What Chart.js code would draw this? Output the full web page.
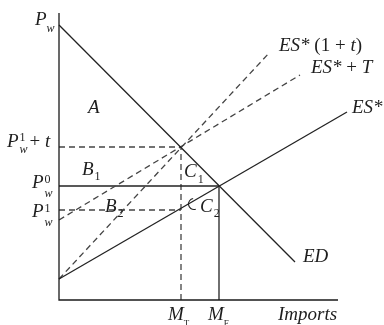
<!DOCTYPE html>
<html><head><meta charset="utf-8">
<script src="https://cdn.jsdelivr.net/npm/chart.js@4/dist/chart.umd.min.js"></script>
<style>html,body{margin:0;padding:0;background:#fff}#wrap{width:384px;height:325px}</style>
</head><body><div id="wrap"><canvas id="c" width="384" height="325"></canvas></div>
<script>
// Schematic values (diagram units: imports on x, price on y)
const curveNames = ['ED', 'ES*', 'ES*(1+t)', 'ES*+T'];
const curveStartX = [0, 0, 0, 0];
const curveStartY = [275, 21, 21, 80];
const curveEndX = [236, 288, 211, 241];
const curveEndY = [38, 188, 248, 225];
const curveDashed = [false, false, true, true];
const priceNames = ['Pw', 'Pw1+t', 'Pw0', 'Pw1'];
const priceLevels = [275, 153, 114, 90];
const importNames = ['MT', 'MF'];
const importLevels = [122, 160];
const axisEnd = [279, 287];

const INK = '#222', DASH = '#444';
const datasets = [];
function seg(pts, dashed, color) {
  datasets.push({data: pts.map(p => ({x: p[0], y: p[1]})), showLine: true, borderColor: color || (dashed ? DASH : INK),
    borderWidth: 1.3, borderDash: dashed ? [6, 4] : [], pointRadius: 0, fill: false, tension: 0, clip: false});
}
// axes
seg([[0, axisEnd[1]], [0, 0], [axisEnd[0], 0]], false, '#1a1a1a');
// curves
curveNames.forEach((n, i) => seg([[curveStartX[i], curveStartY[i]], [curveEndX[i], curveEndY[i]]], curveDashed[i]));
// price guides
seg([[0, priceLevels[1]], [importLevels[0], priceLevels[1]]], true);
seg([[0, priceLevels[2]], [importLevels[1], priceLevels[2]]], false);
seg([[0, priceLevels[3]], [importLevels[0], priceLevels[3]]], true);
// import guides
seg([[importLevels[0], 0], [importLevels[0], priceLevels[1]]], true);
seg([[importLevels[1], 0], [importLevels[1], priceLevels[2]]], false);

const FONT = '"Liberation Serif", "Times New Roman", serif';
const FS = 19, SS = 12;
function runs(ctx, x, y, parts) {
  let cx = x;
  for (const p of parts) {
    ctx.font = (p.i ? 'italic ' : '') + (p.s || FS) + 'px ' + FONT;
    ctx.fillText(p.t, cx, y + (p.dy || 0));
    if (!p.stack) cx += ctx.measureText(p.t).width + (p.g || 0);
  }
}
const labels = {
  id: 'labels',
  afterDatasetsDraw(chart) {
    const ctx = chart.ctx, X = v => chart.scales.x.getPixelForValue(v), Y = v => chart.scales.y.getPixelForValue(v);
    ctx.save();
    ctx.fillStyle = '#1e1e1e';
    ctx.textBaseline = 'alphabetic';
    const x0 = X(0);
    // price labels
    runs(ctx, x0 - 24, Y(priceLevels[0]), [{t: 'P', i: 1}, {t: 'w', i: 1, s: SS, dy: 7}]);
    runs(ctx, x0 - 52, Y(priceLevels[1]), [{t: 'P', i: 1, g: 1}, {t: '1', s: SS, dy: -6, stack: 1}, {t: 'w', i: 1, s: SS, dy: 6, g: 2}, {t: '+ '}, {t: 't', i: 1}]);
    runs(ctx, x0 - 27, Y(priceLevels[2]) + 2, [{t: 'P', i: 1, g: 1}, {t: '0', s: SS, dy: -5, stack: 1}, {t: 'w', i: 1, s: SS, dy: 9}]);
    runs(ctx, x0 - 27, Y(priceLevels[3]) + 7, [{t: 'P', i: 1, g: 1}, {t: '1', s: SS, dy: -5, stack: 1}, {t: 'w', i: 1, s: SS, dy: 9}]);
    // areas
    runs(ctx, 88, 113, [{t: 'A', i: 1}]);
    runs(ctx, 82, 175, [{t: 'B', i: 1, g: 1}, {t: '1', s: SS, dy: 5}]);
    runs(ctx, 105, 212, [{t: 'B', i: 1, g: 1}, {t: '2', s: SS, dy: 5}]);
    runs(ctx, 184, 177, [{t: 'C', i: 1, g: 1}, {t: '1', s: SS, dy: 6}]);
    runs(ctx, 200, 212, [{t: 'C', i: 1, g: 1}, {t: '2', s: SS, dy: 5}]);
    // C2 pointer
    ctx.strokeStyle = INK; ctx.lineWidth = 1.1;
    ctx.beginPath(); ctx.arc(194, 204, 5.5, -Math.PI * 0.55, Math.PI * 0.4, true); ctx.stroke();
    // curve labels
    runs(ctx, 303, 262, [{t: 'ED', i: 1}]);
    runs(ctx, 352, 113, [{t: 'ES*', i: 1}]);
    runs(ctx, 311, 73, [{t: 'ES* ', i: 1}, {t: '+ '}, {t: 'T', i: 1}]);
    runs(ctx, 279, 51, [{t: 'ES* ', i: 1}, {t: '(1 + '}, {t: 't', i: 1}, {t: ')'}]);
    // axis labels
    runs(ctx, 278, 320, [{t: 'Imports', i: 1}]);
    runs(ctx, X(importLevels[0]) - 13, 320, [{t: 'M', i: 1}, {t: 'T', s: 9, dy: 6}]);
    runs(ctx, X(importLevels[1]) - 11, 320, [{t: 'M', i: 1}, {t: 'F', s: 9, dy: 6}]);
    ctx.restore();
  }
};
new Chart(document.getElementById('c'), {
  type: 'scatter',
  data: {datasets},
  options: {
    responsive: false, animation: false, events: [],
    layout: {padding: 0},
    plugins: {legend: {display: false}, tooltip: {enabled: false}},
    scales: {
      x: {type: 'linear', min: -59, max: 325, display: false},
      y: {type: 'linear', min: -25, max: 300, display: false}
    }
  },
  plugins: [labels]
});
</script></body></html>
